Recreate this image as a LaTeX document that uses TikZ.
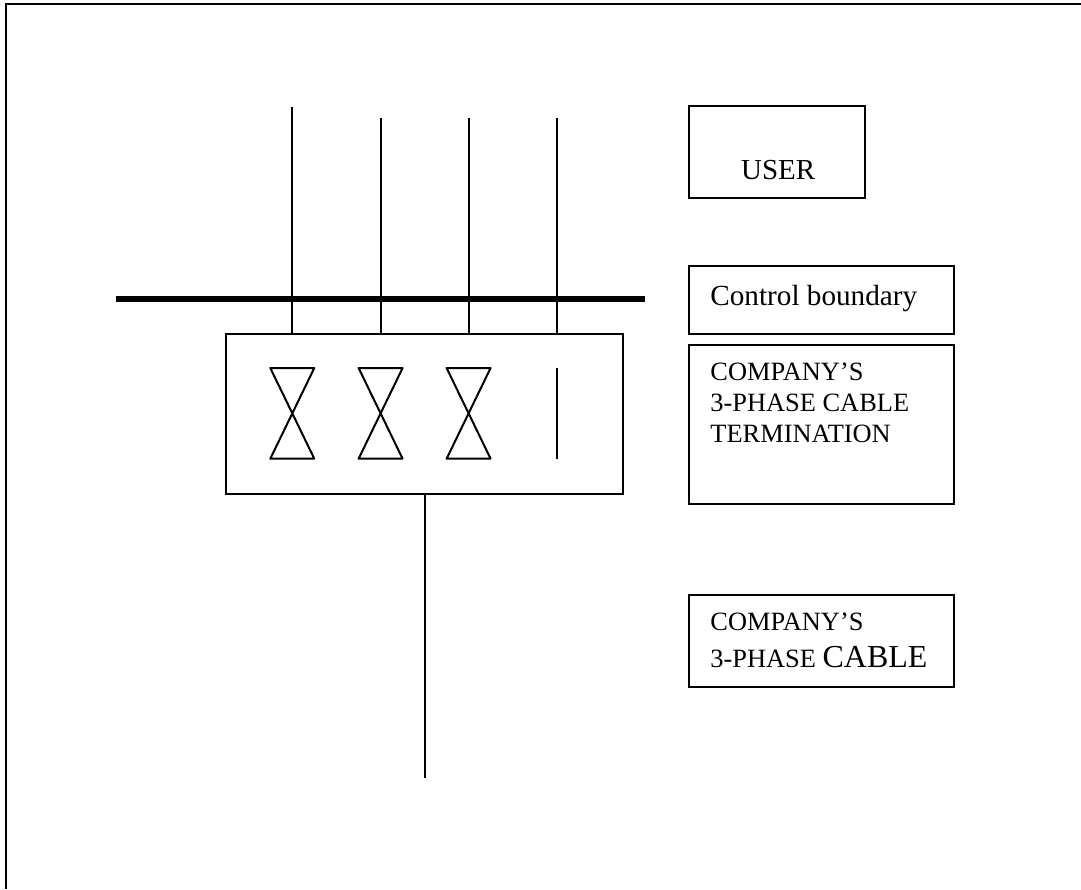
\documentclass[tikz,border=0pt]{standalone}
\usepackage{fontspec}
\setmainfont{Liberation Serif}
\tikzset{
	box/.style={draw, line width=1pt, inner sep=0pt},
	boxtext/.style={inner sep=0pt, anchor=base west, align=left, font=\fontsize{13.2}{15.5}\selectfont},
	wire/.style={line width=1pt},
	boundary/.style={line width=2.9pt}
}
\begin{document}
\begin{tikzpicture}[x=0.5pt,y=-0.5pt]
	\useasboundingbox (0,0) rectangle (1081,889);
	
	%Outer frame
	\coordinate (FL) at (5.5,889);
	\coordinate (FC) at (5.5,3.5);
	\coordinate (FR) at (1081,3.5);
	\draw[wire] (FL) -- (FC) -- (FR);
	
	%Termination box
	\node[box, minimum width=198.5pt, minimum height=79.6pt] (Term) at (424.4,414) {};
	
	%Phase lines
	\coordinate (L1) at (292.3,107);
	\coordinate (L2) at (380.6,118);
	\coordinate (L3) at (468.6,118);
	\coordinate (L4) at (556.7,118);
	\draw[wire] (L1) -- (L1 |- Term.north);
	\draw[wire] (L2) -- (L2 |- Term.north);
	\draw[wire] (L3) -- (L3 |- Term.north);
	\draw[wire] (L4) -- (L4 |- Term.north);
	
	%Boundary
	\coordinate (BL) at (116,299.3);
	\coordinate (BR) at (645,299.3);
	\draw[boundary] (BL) -- (BR);
	
	%One Fuse
	\def\x{292.3}
	\draw[wire, line join=round] (\x-22,368) -- (\x+22,368) -- (\x-22,458.7) -- (\x+22,458.7) -- cycle;
	
	%One Fuse
	\def\x{380.6}
	\draw[wire, line join=round] (\x-22,368) -- (\x+22,368) -- (\x-22,458.7) -- (\x+22,458.7) -- cycle;
	
	%One Fuse
	\def\x{468.6}
	\draw[wire, line join=round] (\x-22,368) -- (\x+22,368) -- (\x-22,458.7) -- (\x+22,458.7) -- cycle;
	
	%Neutral
	\draw[wire] (556.7,368) -- (556.7,458.7);
	
	%Cable
	\coordinate (CE) at (424.6,778);
	\draw[wire] (Term.south -| CE) -- (CE);
	
	%Legend
	\node[box, minimum width=88.2pt, minimum height=45.9pt] (User) at (777.2,152.2) {};
	\node[boxtext, font=\fontsize{14.5}{17}\selectfont] (UserT) at (740.7,179.5) {USER};
	
	\node[box, minimum width=132.5pt, minimum height=34pt] (Ctrl) at (821.5,300) {};
	\node[boxtext, font=\fontsize{14.6}{17}\selectfont] (CtrlT) at (710,305.5) {Control boundary};
	
	\node[box, minimum width=132.5pt, minimum height=79.5pt] (Comp) at (821.5,424.5) {};
	\node[boxtext] (CompT) at (710,442.7) {COMPANY’S\\3-PHASE CABLE\\TERMINATION};
	
	\node[box, minimum width=132.5pt, minimum height=45.7pt] (Cab) at (821.5,641) {};
	\node[boxtext] (CabT) at (710,667.5) {COMPANY’S\\[3pt]3-PHASE {\fontsize{16}{17}\selectfont CABLE}};
\end{tikzpicture}
\end{document}
